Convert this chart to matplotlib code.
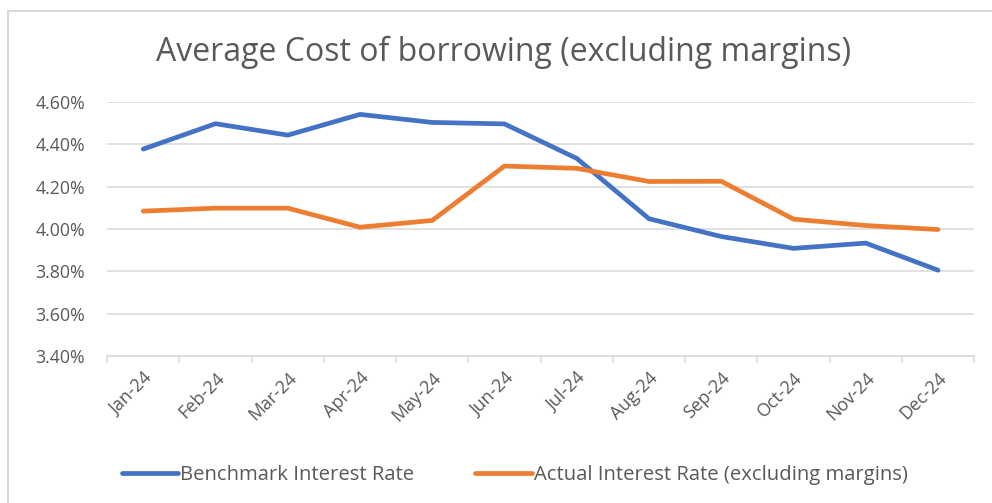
import matplotlib

matplotlib.use("Agg")
import matplotlib.pyplot as plt
import numpy as np
from matplotlib.patches import Rectangle
from matplotlib.ticker import FixedLocator, FuncFormatter

# Monthly averages, % p.a.
months = ["Jan-24", "Feb-24", "Mar-24", "Apr-24", "May-24", "Jun-24",
          "Jul-24", "Aug-24", "Sep-24", "Oct-24", "Nov-24", "Dec-24"]
benchmark = [4.378, 4.498, 4.444, 4.542, 4.504, 4.497,
             4.334, 4.049, 3.965, 3.909, 3.934, 3.806]
actual = [4.085, 4.099, 4.099, 4.009, 4.041, 4.298,
          4.287, 4.225, 4.226, 4.047, 4.017, 3.998]
y_ticks = [3.40, 3.60, 3.80, 4.00, 4.20, 4.40, 4.60]

BLUE = "#4472C4"
ORANGE = "#ED7D31"
GRID = "#D9D9D9"
TEXT = "#595959"

plt.rcParams["font.family"] = ["Open Sans", "DejaVu Sans"]

fig = plt.figure(figsize=(9.92, 5.03), dpi=100)
ax = fig.add_axes([0.108, 0.292, 0.874, 0.505])

x = np.arange(len(months))
ax.plot(x, benchmark, color=BLUE, lw=3.4, solid_capstyle="round",
        solid_joinstyle="round", label="Benchmark Interest Rate")
ax.plot(x, actual, color=ORANGE, lw=3.4, solid_capstyle="round",
        solid_joinstyle="round", label="Actual Interest Rate (excluding margins)")

ax.set_xlim(-0.5, len(months) - 0.5)
ax.set_ylim(y_ticks[0], y_ticks[-1])

ax.set_yticks(y_ticks)
ax.yaxis.set_major_formatter(FuncFormatter(lambda v, _: f"{v:.2f}%"))
ax.tick_params(axis="y", length=0, pad=16, labelsize=12.8, labelcolor=TEXT)
ax.grid(axis="y", color=GRID, lw=1.1)
ax.set_axisbelow(True)

# category labels at centres, tick marks on the boundaries
ax.set_xticks(x)
ax.set_xticklabels(months, rotation=45, ha="right", rotation_mode="anchor")
ax.tick_params(axis="x", which="major", length=0, pad=9, labelsize=13, labelcolor=TEXT)
ax.xaxis.set_minor_locator(FixedLocator(np.arange(-0.5, len(months), 1.0)))
ax.tick_params(axis="x", which="minor", length=5, width=1.1, color=GRID, direction="out")

for side in ("top", "right", "left"):
    ax.spines[side].set_visible(False)
ax.spines["bottom"].set_color(GRID)
ax.spines["bottom"].set_linewidth(1.1)

fig.text(0.508, 0.896, "Average Cost of borrowing (excluding margins)",
         ha="center", va="center", fontsize=23, color=TEXT)

fig.legend(loc="center", bbox_to_anchor=(0.519, 0.056), ncol=2, frameon=False,
           fontsize=14.6, labelcolor=TEXT, handlelength=2.8, handletextpad=0.1,
           columnspacing=3.0)

# light chart border
fig.add_artist(Rectangle((8 / 992, -0.1), 1.2, (503 - 11) / 503 + 0.1,
                         transform=fig.transFigure, fill=False,
                         edgecolor=GRID, lw=1.5))

fig.savefig("out.png", dpi=100)
